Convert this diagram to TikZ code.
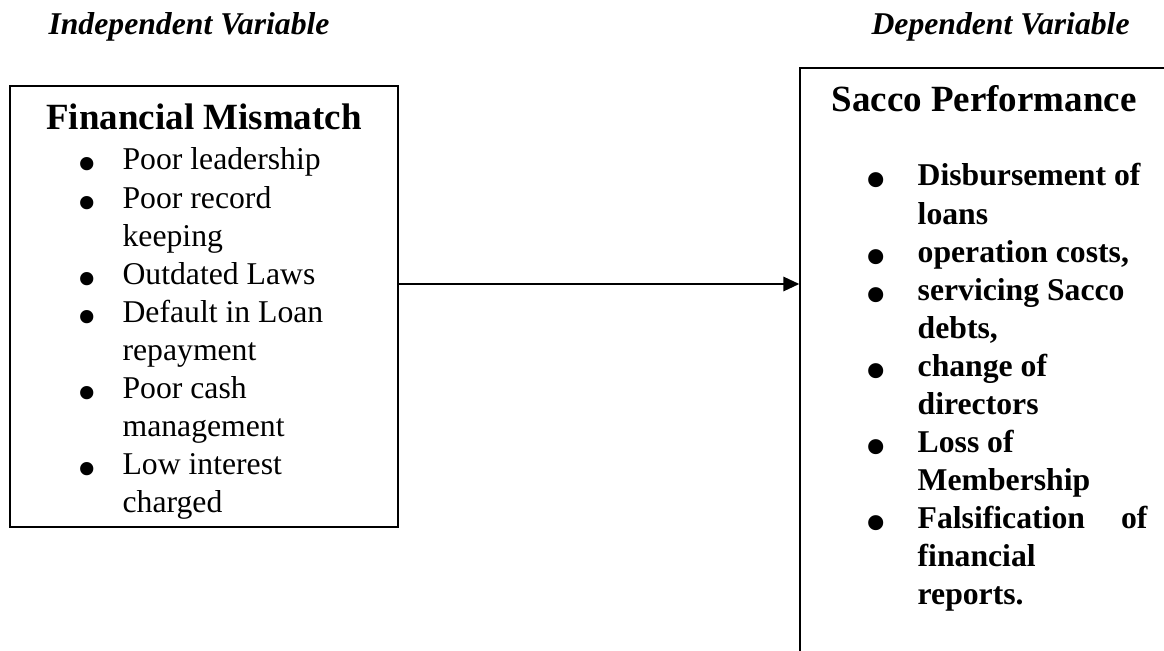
\documentclass[tikz,border=0pt]{standalone}
\usepackage{fontspec}
\setmainfont{Liberation Serif}
\usetikzlibrary{arrows.meta,fit}
\newcommand{\bul}{\raisebox{-0.41em}[0pt][0pt]{\scalebox{1.75}{\textbullet}}}
\begin{document}
\begin{tikzpicture}[x=0.37854pt,y=-0.37854pt,
		box/.style={draw,line width=0.6pt,inner sep=0pt},
		head/.style={font=\fontsize{14}{16.8}\selectfont\bfseries,inner sep=0pt},
		var/.style={font=\fontsize{12}{14.4}\selectfont\bfseries\itshape,inner sep=0pt,anchor=base west},
		items/.style={font=\fontsize{12}{14.4}\selectfont,inner sep=0pt,anchor=base west},
		flow/.style={-{Triangle[length=6pt,width=5.5pt]},line width=0.6pt}]
		\useasboundingbox (0,0) rectangle (1164,650);
		\clip (0,0) rectangle (1164,650);
		\node[var] (indep) at (48,35) {Independent Variable};
		\node[var] (dep) at (871,35) {Dependent Variable};
		\node[box,fit={(10,86) (398,527)}] (mismatch) {};
		\node[box,fit={(800,68) (1200,700)}] (performance) {};
		\node[head,anchor=base] (mismatchtitle) at (204,130) {Financial Mismatch};
		\node[head,anchor=base west] (performancetitle) at (831,112) {Sacco Performance};
		\node[items] (causes) at (77,170) {\begin{tabular}[t]{@{}p{17.06pt}@{}l@{}}
				\bul & Poor leadership\\
				\bul & Poor record\\
				& keeping\\
				\bul & Outdated Laws\\
				\bul & Default in Loan\\
				& repayment\\
				\bul & Poor cash\\
				& management\\
				\bul & Low interest\\
				& charged
			\end{tabular}};
		\node[items,font=\fontsize{12}{14.4}\selectfont\bfseries] (effects) at (866,186) {\begin{tabular}[t]{@{}p{19.36pt}@{}l@{}}
				\bul & Disbursement of\\
				& loans\\
				\bul & operation costs,\\
				\bul & servicing Sacco\\
				& debts,\\
				\bul & change of\\
				& directors\\
				\bul & Loss of\\
				& Membership\\
				\bul & \makebox[87pt][s]{Falsification of}\\
				& financial\\
				& reports.
			\end{tabular}};
		\coordinate (aim) at (0,284);
		\draw[flow] (mismatch.east |- aim)--(performance.west |- aim);
	\end{tikzpicture}
\end{document}
